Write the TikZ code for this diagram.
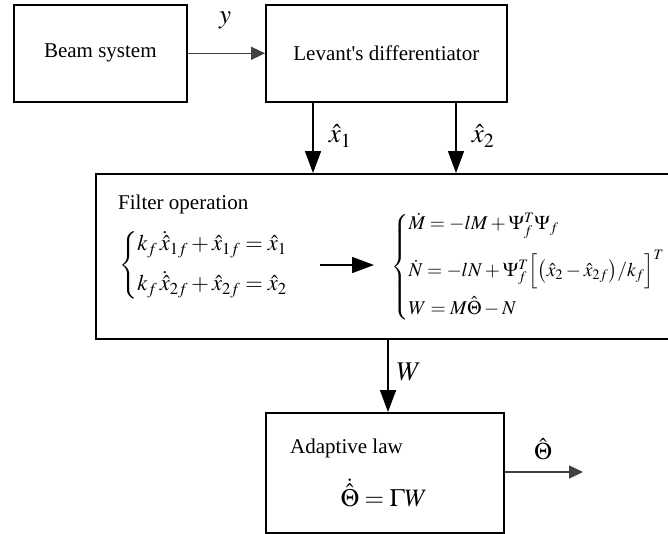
\documentclass[tikz,border=0pt]{standalone}
\usepackage{mathptmx}
\usepackage[no-math]{fontspec}
\setmainfont{Liberation Serif}
\usetikzlibrary{arrows.meta}
\definecolor{sigGray}{HTML}{404040}
\tikzset{
  blk/.style={draw, line width=1.6pt, inner sep=0pt, anchor=north west},
  txt/.style={font=\fontsize{21}{25}\selectfont, inner sep=0pt},
  lbl/.style={font=\fontsize{27}{30}\selectfont, inner sep=0pt},
  sig/.style={-{Triangle[length=22pt,width=16pt]}, line width=1.6pt},
  gsig/.style={-{Triangle[length=14pt,width=13pt]}, line width=1.6pt, draw=sigGray, color=sigGray}
}
\begin{document}
\begin{tikzpicture}[x=1pt,y=-1pt]
\useasboundingbox (0,0) rectangle (668,533);
\clip (0,0) rectangle (668,533);

% blocks
\node[blk, minimum width=173pt, minimum height=97pt, txt] (beam) at (13,4) {Beam system};
\node[blk, minimum width=241pt, minimum height=97pt, txt] (lev) at (265,4) {Levant\textquotesingle s differentiator};
\node[blk, minimum width=585pt, minimum height=165pt] (filter) at (95,173) {};
\node[blk, minimum width=238pt, minimum height=120pt] (adapt) at (265,412) {};

% filter contents
\node[txt, anchor=base west] (ftitle) at (118,209) {Filter operation};
\node[font=\fontsize{22.5}{26}\selectfont, inner sep=0pt, anchor=west] (leq) at (119,265) {$\renewcommand{\arraystretch}{1}\left\{\begin{array}{@{}l@{}}
  k_f\,\dot{\hat{x}}_{1f}+\hat{x}_{1f}=\hat{x}_1\\[13pt]
  k_f\,\dot{\hat{x}}_{2f}+\hat{x}_{2f}=\hat{x}_2
\end{array}\right.$};
\node[font=\fontsize{19.5}{22}\selectfont, inner sep=0pt, anchor=west] (req) at (391,267) {$\renewcommand{\arraystretch}{1}\left\{\begin{array}{@{}l@{}}
  \dot{M}=-lM+\Psi_f^T\Psi_f\\[14pt]
  \dot{N}=-lN+\Psi_f^T\Bigl[\bigl(\hat{x}_2-\hat{x}_{2f}\bigr)/k_f\Bigr]^T\\[14pt]
  W=M\hat{\Theta}-N
\end{array}\right.$};
\coordinate (fa) at (320,265);
\coordinate (fb) at (374,265);
\draw[sig] (fa) -- (fb);

% adaptive law contents
\node[txt, anchor=base west] (atitle) at (290,453) {Adaptive law};
\node[font=\fontsize{25}{28}\selectfont, inner sep=0pt, anchor=base] (aeq) at (384,506) {$\dot{\hat{\Theta}}=\Gamma W$};

% connectors
\coordinate (px1) at (313,0);
\coordinate (px2) at (456,0);
\coordinate (pw) at (388,0);
\coordinate (out) at (583,472);
\draw[gsig] (beam.east) -- (lev.west);
\draw[sig] (lev.south -| px1) -- (filter.north -| px1);
\draw[sig] (lev.south -| px2) -- (filter.north -| px2);
\draw[sig] (filter.south -| pw) -- (adapt.north -| pw);
\draw[gsig] (adapt.east |- out) -- (out);

% signal labels
\node[lbl] (ly) at (225,20) {$y$};
\node[lbl] (lx1) at (340,136) {$\hat{x}_1$};
\node[lbl] (lx2) at (483,136) {$\hat{x}_2$};
\node[lbl] (lw) at (409,372) {$W$};
\node[font=\fontsize{24}{27}\selectfont, inner sep=0pt] (lth) at (543,449) {$\hat{\Theta}$};
\end{tikzpicture}
\end{document}
